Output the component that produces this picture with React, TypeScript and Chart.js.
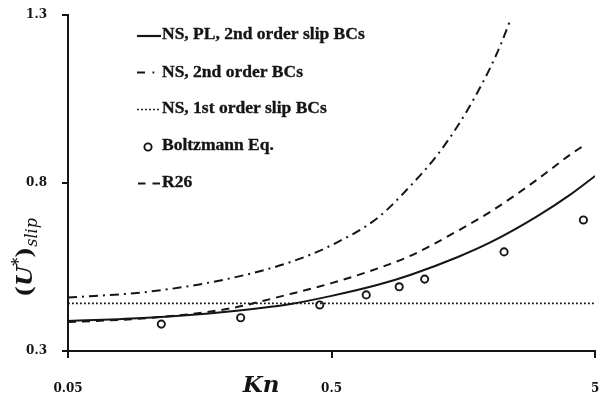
import React, { useEffect, useRef } from "react";
import { Chart, registerables } from "chart.js";

Chart.register(...registerables);

// ---- data ----
const KN_TICKS = [0.05, 0.5, 5];
const Y_TICKS = [0.3, 0.8, 1.3];

const LEGEND_LABELS = [
  "NS, PL, 2nd order slip BCs",
  "NS, 2nd order BCs",
  "NS, 1st order slip BCs",
  "Boltzmann Eq.",
  "R26",
];

const PL_KN = [0.05, 0.1, 0.2, 0.35, 0.5, 0.75, 1.0, 1.5, 2.0, 3.0, 4.0, 5.0];
const PL_U = [0.389, 0.399, 0.417, 0.44, 0.464, 0.497, 0.527, 0.579, 0.623, 0.7, 0.764, 0.821];

const NS2_KN = [0.05, 0.1, 0.2, 0.35, 0.5, 0.75, 1.0, 1.25, 1.5, 1.75, 2.0, 2.2, 2.37];
const NS2_U = [0.459, 0.476, 0.514, 0.565, 0.615, 0.697, 0.793, 0.88, 0.968, 1.056, 1.143, 1.215, 1.28];

const NS1_KN = [0.05, 5];
const NS1_U = [0.442, 0.442];

const BOLTZ_KN = [0.113, 0.226, 0.451, 0.677, 0.903, 1.128, 2.257, 4.514];
const BOLTZ_U = [0.38, 0.399, 0.437, 0.467, 0.491, 0.514, 0.595, 0.69];

const R26_KN = [0.05, 0.1, 0.2, 0.35, 0.5, 0.75, 1.0, 1.5, 2.0, 3.0, 4.0, 4.5];
const R26_U = [0.386, 0.398, 0.425, 0.47, 0.502, 0.546, 0.584, 0.657, 0.714, 0.809, 0.883, 0.91];

const INK = "#151515";
const DASH_R26 = [8, 6];
const DASH_NS2 = [9, 5, 2, 5];
const DASH_NS1 = [1.8, 2.2];

const pts = (xs: number[], ys: number[]) => xs.map((x, i) => ({ x, y: ys[i] }));

const decorPlugin = {
  id: "decor",
  afterDraw(chart: any) {
    const ctx: CanvasRenderingContext2D = chart.ctx;
    ctx.save();
    ctx.strokeStyle = INK;
    ctx.fillStyle = INK;
    ctx.lineWidth = 2;

    // legend
    const baselines = [39, 76.5, 113, 150, 187];
    const sampleY = [36, 72.5, 109.5, 147, 183.5];
    const seg = (x0: number, x1: number, y: number, dash: number[], w = 2) => {
      ctx.beginPath();
      ctx.setLineDash(dash);
      ctx.lineWidth = w;
      ctx.moveTo(x0, y);
      ctx.lineTo(x1, y);
      ctx.stroke();
      ctx.setLineDash([]);
    };
    seg(137, 161, sampleY[0], [], 2.2);
    seg(137, 154.5, sampleY[1], [8, 7.5, 1.8, 100], 2.2);
    seg(137, 159, sampleY[2], DASH_NS1, 1.7);
    ctx.beginPath();
    ctx.lineWidth = 1.9;
    ctx.arc(148, sampleY[3], 3.6, 0, Math.PI * 2);
    ctx.fillStyle = "#fff";
    ctx.fill();
    ctx.stroke();
    ctx.fillStyle = INK;
    seg(138, 160, sampleY[4], [7.5, 7], 2.2);

    ctx.font = 'bold 17.5px "Liberation Serif"';
    ctx.textAlign = "left";
    ctx.textBaseline = "alphabetic";
    ctx.lineWidth = 0.35;
    LEGEND_LABELS.forEach((t, i) => {
      ctx.fillText(t, 162, baselines[i]);
      ctx.strokeText(t, 162, baselines[i]);
    });

    // x title
    ctx.font = 'bold italic 23px "DejaVu Serif"';
    ctx.textAlign = "center";
    ctx.fillText("Kn", 261, 392);

    // y title (rotated)
    ctx.translate(32, 297);
    ctx.rotate(-Math.PI / 2);
    ctx.textAlign = "left";
    let x = 0;
    const put = (t: string, font: string, dy: number) => {
      ctx.font = font;
      ctx.fillText(t, x, dy);
      x += ctx.measureText(t).width;
    };
    put("(", 'bold 23px "DejaVu Serif"', 0);
    put("U", 'bold italic 23px "DejaVu Serif"', 0);
    put("*", 'bold 16px "DejaVu Serif"', -9);
    put(")", 'bold 23px "DejaVu Serif"', 0);
    put("slip", 'italic 16px "DejaVu Serif"', 5);
    ctx.restore();
  },
};

export default function App() {
  const ref = useRef<HTMLCanvasElement | null>(null);

  useEffect(() => {
    if (!ref.current) return;
    const tickFont = { family: '"DejaVu Serif"', size: 12, weight: "bold" as const };
    const chart = new Chart(ref.current, {
      type: "line",
      data: {
        datasets: [
          {
            label: LEGEND_LABELS[0],
            data: pts(PL_KN, PL_U),
            borderColor: INK,
            borderWidth: 2,
            pointRadius: 0,
            cubicInterpolationMode: "monotone",
          },
          {
            label: LEGEND_LABELS[1],
            data: pts(NS2_KN, NS2_U),
            borderColor: INK,
            borderWidth: 2,
            borderDash: DASH_NS2,
            pointRadius: 0,
            cubicInterpolationMode: "monotone",
          },
          {
            label: LEGEND_LABELS[2],
            data: pts(NS1_KN, NS1_U),
            borderColor: INK,
            borderWidth: 1.7,
            borderDash: DASH_NS1,
            pointRadius: 0,
          },
          {
            label: LEGEND_LABELS[3],
            data: pts(BOLTZ_KN, BOLTZ_U),
            showLine: false,
            borderColor: INK,
            backgroundColor: "#fff",
            pointRadius: 3.6,
            pointBorderWidth: 1.9,
            pointStyle: "circle",
          },
          {
            label: LEGEND_LABELS[4],
            data: pts(R26_KN, R26_U),
            borderColor: INK,
            borderWidth: 2,
            borderDash: DASH_R26,
            pointRadius: 0,
            cubicInterpolationMode: "monotone",
          },
        ],
      },
      options: {
        animation: false,
        responsive: false,
        maintainAspectRatio: false,
        layout: { padding: { top: 15, right: 2, left: 0, bottom: 0 } },
        plugins: { legend: { display: false }, tooltip: { enabled: false } },
        scales: {
          x: {
            type: "logarithmic",
            min: 0.05,
            max: 5,
            afterBuildTicks: (s: any) => {
              s.ticks = KN_TICKS.map((v) => ({ value: v }));
            },
            afterFit: (s: any) => {
              s.height = 51;
              s.paddingLeft = 0;
              s.paddingRight = 0;
            },
            ticks: {
              autoSkip: false,
              maxRotation: 0,
              padding: 24,
              color: INK,
              font: tickFont,
              callback: (v: any) => String(v),
            },
            grid: { drawOnChartArea: false, drawTicks: true, tickLength: 7, lineWidth: 2, color: INK },
            border: { display: true, width: 2, color: INK },
          },
          y: {
            type: "linear",
            min: 0.3,
            max: 1.3,
            afterBuildTicks: (s: any) => {
              s.ticks = Y_TICKS.map((v) => ({ value: v }));
            },
            afterFit: (s: any) => {
              s.width = 68;
              s.paddingTop = 0;
              s.paddingBottom = 0;
            },
            ticks: {
              padding: 15,
              color: INK,
              font: tickFont,
              callback: (v: any) => Number(v).toFixed(1),
            },
            grid: { drawOnChartArea: false, drawTicks: true, tickLength: 6, lineWidth: 2, color: INK },
            border: { display: true, width: 2, color: INK },
          },
        },
      },
      plugins: [decorPlugin],
    });
    return () => chart.destroy();
  }, []);

  return (
    <div style={{ position: "absolute", left: 0, top: 0, width: 601, height: 402, background: "#fff" }}>
      <canvas ref={ref} width={601} height={402} style={{ width: 601, height: 402, display: "block" }} />
    </div>
  );
}
